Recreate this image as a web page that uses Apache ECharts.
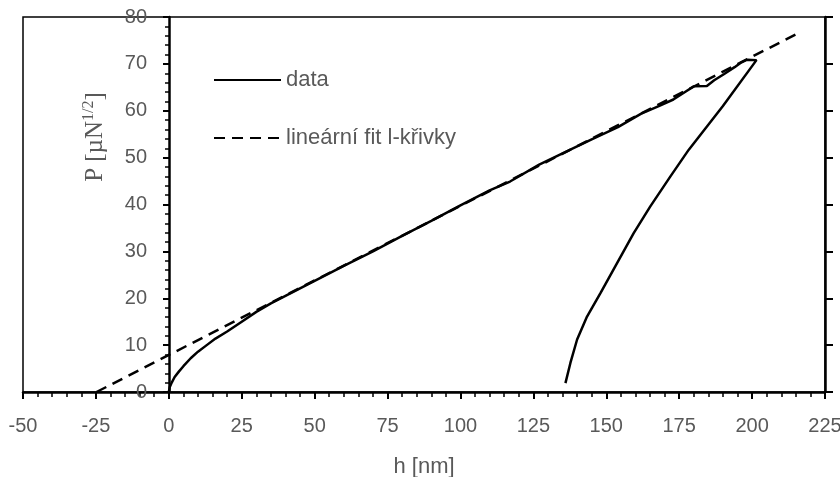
<!DOCTYPE html>
<html>
<head>
<meta charset="utf-8">
<script src="https://cdn.jsdelivr.net/npm/echarts@6/dist/echarts.min.js"></script>
<style>html,body{margin:0;padding:0;background:#fff}#c{width:840px;height:477px}</style>
</head>
<body>
<div id="c"></div>
<script>
// ---- data ----
var dataH = [0, 0.3, 1, 2, 3.5, 5, 7.5, 10, 13, 16, 20, 25, 30, 35, 40, 50, 60, 70, 80, 90, 100, 110, 117, 127, 135, 145, 154, 162, 168, 173, 177, 180, 184.5, 187, 190.3, 194, 196, 198.3, 201.5,
             201.5, 190, 178.3, 172, 165.1, 159.4, 153.7, 148, 143.4, 140, 137.7, 136];
var dataP = [0, 1, 2, 3.2, 4.4, 5.5, 7.2, 8.6, 10.0, 11.4, 12.9, 15.0, 17.1, 18.9, 20.5, 23.7, 26.9, 30.0, 33.3, 36.5, 39.8, 43.0, 44.9, 48.5, 50.9, 53.9, 56.5, 59.4, 61.0, 62.4, 64.0, 65.2, 65.3, 66.5, 67.8, 69.3, 70.2, 70.9, 70.8,
             70.6, 61.0, 51.7, 46.0, 39.6, 33.9, 27.5, 21.1, 16.1, 11.2, 6.2, 1.9];
var fitH = [-24.8, 215];
var fitP = [0, 76.3];
var xTicks = {min: -50, max: 225, interval: 25};
var yTicks = {min: 0, max: 80, interval: 10};
var seriesNames = ['data', 'lineární fit l-křivky'];

function pairs(xs, ys) { return xs.map(function (x, i) { return [x, ys[i]]; }); }

var txt = '#595959';
var font = '"Liberation Sans", Arial, sans-serif';
var serif = '"Liberation Serif", "Times New Roman", serif';
var chart = echarts.init(document.getElementById('c'));
var legendCommon = {orient: 'vertical', itemWidth: 67, itemHeight: 14, left: 208,
  itemStyle: {opacity: 0},
  textStyle: {color: txt, fontFamily: font, fontSize: 22, lineHeight: 24}};
chart.setOption({
  animation: false,
  backgroundColor: '#fff',
  grid: {left: 23, right: 15, top: 17, bottom: 85, outerBoundsMode: 'none', containLabel: false,
         show: true, borderColor: '#000', borderWidth: 1.5, backgroundColor: 'transparent'},
  legend: [
    Object.assign({data: [seriesNames[0]], top: 63}, legendCommon),
    Object.assign({data: [seriesNames[1]], top: 121}, legendCommon)
  ],
  xAxis: {
    type: 'value', min: xTicks.min, max: xTicks.max, interval: xTicks.interval,
    name: 'h [nm]', nameLocation: 'middle', nameGap: 64,
    nameTextStyle: {color: txt, fontFamily: font, fontSize: 22},
    axisLine: {onZero: false, lineStyle: {color: '#000', width: 2.5}},
    axisTick: {show: true, length: 7, lineStyle: {color: '#000', width: 2}},
    minorTick: {show: true, splitNumber: 5, length: 5, lineStyle: {color: '#000', width: 1.5}},
    axisLabel: {color: txt, fontFamily: font, fontSize: 20, margin: 24, showMinLabel: true, showMaxLabel: true},
    splitLine: {show: false}
  },
  yAxis: [{
    type: 'value', position: 'left', offset: -146, min: yTicks.min, max: yTicks.max, interval: yTicks.interval,
    axisLine: {show: true, onZero: false, lineStyle: {color: '#000', width: 2.5}},
    axisTick: {show: true, length: 6, lineStyle: {color: '#000', width: 2}},
    minorTick: {show: true, splitNumber: 5, length: 4, lineStyle: {color: '#000', width: 1.5}},
    axisLabel: {color: txt, fontFamily: font, fontSize: 20, margin: 22, showMinLabel: true, showMaxLabel: true},
    splitLine: {show: false}
  }, {
    type: 'value', position: 'right', min: yTicks.min, max: yTicks.max, interval: yTicks.interval,
    axisLine: {show: true, onZero: false, lineStyle: {color: '#000', width: 2.5}},
    axisTick: {show: true, length: 8, lineStyle: {color: '#000', width: 2}},
    axisLabel: {show: false},
    splitLine: {show: false}
  }],
  graphic: [{
    type: 'text', x: 95, y: 137, rotation: Math.PI / 2,
    style: {
      text: '{a|P [µN}{s|1/2}{a|]}',
      align: 'center', verticalAlign: 'middle',
      rich: {
        a: {fontFamily: serif, fontSize: 25, fill: txt, color: txt},
        s: {fontFamily: serif, fontSize: 16, fill: txt, color: txt, padding: [0, 0, 12, 0]}
      }
    }
  }],
  series: [{
    name: seriesNames[0], type: 'line', data: pairs(dataH, dataP), showSymbol: false, symbol: 'none',
    lineStyle: {color: '#000', width: 2.5}, itemStyle: {color: '#000'}, z: 3
  }, {
    name: seriesNames[1], type: 'line', data: pairs(fitH, fitP), showSymbol: false, symbol: 'none', clip: false,
    lineStyle: {color: '#000', width: 2.5, type: [11, 7]}, itemStyle: {color: '#000'}, z: 2
  }]
});
</script>
</body>
</html>
